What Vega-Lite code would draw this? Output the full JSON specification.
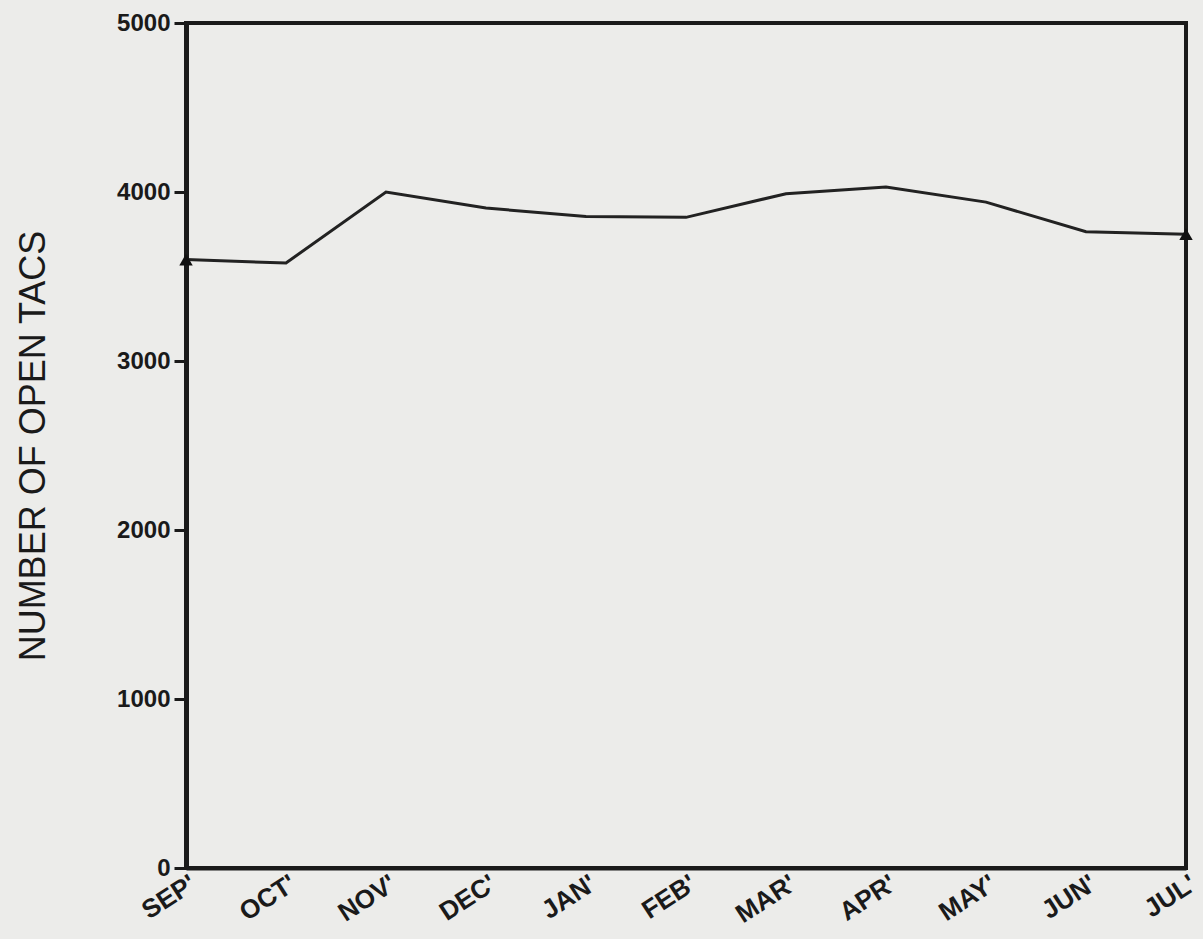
{
  "$schema": "https://vega.github.io/schema/vega-lite/v6.json",
  "width": 1000,
  "height": 845,
  "autosize": {"type": "none"},
  "padding": {"left": 186, "top": 23, "right": 17, "bottom": 71},
  "background": "#ececea",
  "config": {
    "view": {"stroke": "#1a1a1a", "strokeWidth": 4},
    "axis": {"labelFont": "Liberation Sans", "titleFont": "Liberation Sans", "labelColor": "#1a1a1a", "titleColor": "#1a1a1a", "domainColor": "#1a1a1a", "tickColor": "#1a1a1a", "grid": false}
  },
  "data": {
    "values": [
      {"month": "SEP'", "tacs": 3600},
      {"month": "OCT'", "tacs": 3580},
      {"month": "NOV'", "tacs": 4000},
      {"month": "DEC'", "tacs": 3905},
      {"month": "JAN'", "tacs": 3855},
      {"month": "FEB'", "tacs": 3850},
      {"month": "MAR'", "tacs": 3990},
      {"month": "APR'", "tacs": 4030},
      {"month": "MAY'", "tacs": 3940},
      {"month": "JUN'", "tacs": 3765},
      {"month": "JUL'", "tacs": 3750}
    ]
  },
  "encoding": {
    "x": {
      "field": "month", "type": "ordinal", "sort": null,
      "scale": {"type": "point", "padding": 0},
      "axis": {"title": null, "labelAngle": -33, "labelAlign": "right", "labelBaseline": "top", "labelFontSize": 26, "labelFontWeight": "bold", "ticks": false, "domainWidth": 4, "labelPadding": 2, "labelOffset": 0}
    },
    "y": {
      "field": "tacs", "type": "quantitative",
      "scale": {"domain": [0, 5000], "nice": false},
      "axis": {"title": "NUMBER OF OPEN TACS", "values": [0, 1000, 2000, 3000, 4000, 5000], "format": "d", "labelFontSize": 24, "labelFontWeight": "bold", "tickSize": 12, "tickWidth": 3, "domainWidth": 5, "labelPadding": 4, "titleFontSize": 36, "titleFontWeight": "normal", "titlePadding": 64}
    }
  },
  "layer": [
    {"mark": {"type": "line", "color": "#222222", "strokeWidth": 3}},
    {
      "transform": [{"filter": "datum.month === \"SEP'\" || datum.month === \"JUL'\""}],
      "mark": {"type": "point", "shape": "triangle-up", "filled": true, "color": "#111111", "size": 180, "opacity": 1}
    }
  ]
}
